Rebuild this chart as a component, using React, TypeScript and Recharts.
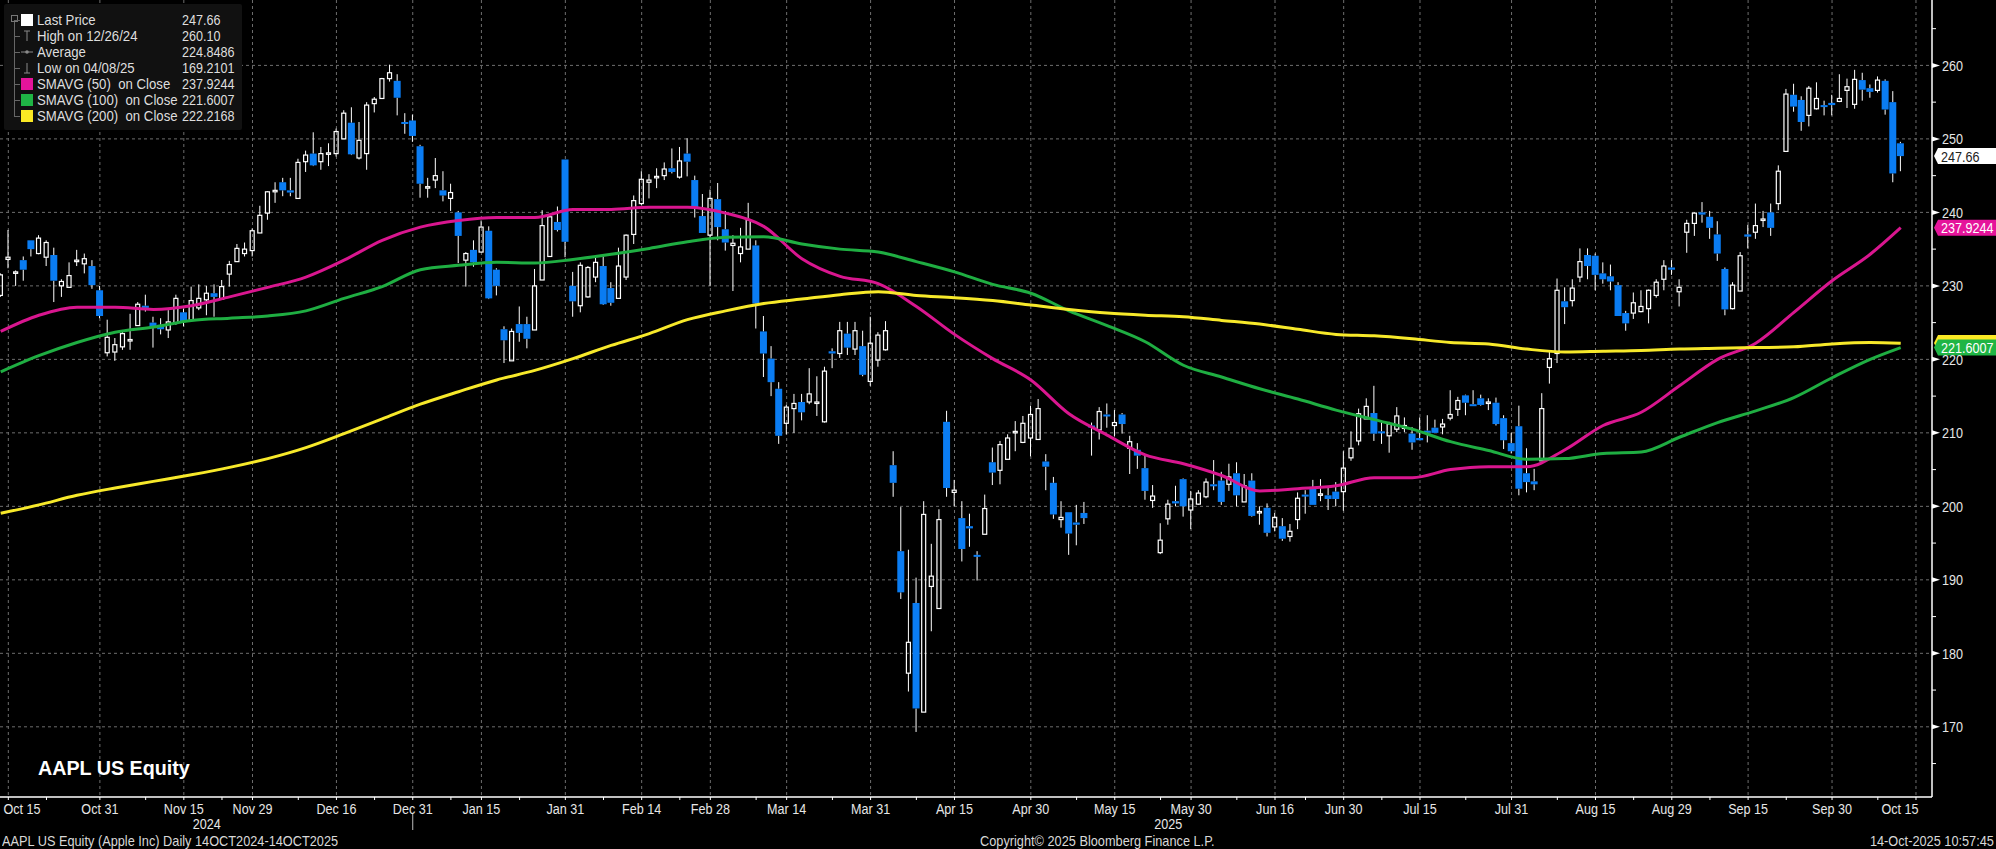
import { Bar, CartesianGrid, ComposedChart, Line, ReferenceDot, XAxis, YAxis } from "recharts";

const W = 1996;
const H = 849;
const FONT = '"Liberation Sans", sans-serif';
const SQUEEZE = 0.84;

// daily bars, 14 Oct 2024 to 14 Oct 2025, ten per row
const opens = [
  228.7, 233.6, 231.7, 233.5, 236.2, 234.4, 233.9, 234.2, 230, 229.8,
  233.3, 233, 232.7, 229.4, 220.9, 221, 221.7, 222.5, 224.6, 227.3,
  225, 224.7, 224, 225, 226.4, 225.3, 227, 228.1, 229, 228.2,
  231.6, 233.3, 234.4, 234.8, 237.2, 239.9, 242.8, 244.1, 243, 241.9,
  246.9, 248, 246.9, 247.9, 248, 250, 252.2, 247.4, 248, 254.8,
  255.5, 258.2, 257.9, 252.3, 252.5, 249, 243.3, 244.4, 243, 241.9,
  240, 233.5, 234.9, 234.6, 237.5, 232.2, 224.1, 219.8, 224.8, 224.8,
  224, 230.8, 234, 238.7, 247.2, 230, 227.3, 228.5, 231.2, 232.7,
  229.7, 228.3, 231.2, 237, 241.2, 244.1, 244.7, 245, 246, 244.8,
  248, 244.4, 239.5, 236.9, 241.8, 237.7, 235.5, 234.4, 235, 235.5,
  223.8, 220.1, 216, 211.3, 213.3, 214.2, 214.2, 214, 211.5, 221.1,
  220.8, 223.5, 221.4, 221.8, 217, 219.9, 221.3, 205.6, 193.9, 177.3,
  186.85, 172, 189.1, 186.1, 211.5, 201.9, 198.4, 197.3, 193.4, 196.2,
  206, 204.9, 206.4, 210, 208.7, 209.3, 209.1, 206.1, 203.2, 198.2,
  199.2, 197.8, 199.1, 211, 210.4, 212.5, 211, 212.5, 207.9, 207.7,
  205.2, 200.8, 193.7, 198.3, 200.7, 203.7, 199.5, 200.3, 201.3, 203,
  203.5, 203, 204.5, 200.6, 203.5, 199.1, 199.8, 197.2, 197.3, 195.9,
  198.2, 201.6, 202.4, 201.5, 201.5, 202, 202, 206.6, 208.9, 211.9,
  212.7, 210.2, 209.6, 210.5, 210.6, 209.9, 209.3, 210.3, 210.7, 210.8,
  212, 213.2, 215.1, 213.9, 214.7, 214, 214.1, 212, 208.6, 210.9,
  204.5, 203.4, 206.2, 218.9, 220.8, 227.9, 228, 231.2, 234.2, 234.1,
  231.7, 231.3, 230.1, 226.3, 226.3, 226.5, 226.9, 228.7, 230.9, 232.5,
  229.2, 237.3, 238.5, 240, 239.4, 237, 232.3, 226.9, 229.3, 237,
  237.3, 238.9, 240, 241.2, 248.3, 256, 255.3, 253.2, 254.1, 254.6,
  254.9, 255.1, 256.6, 254.7, 258, 256.9, 256.6, 257.9, 255, 249.4,
];
const highs = [
  231.7, 237.6, 232.1, 234, 236.2, 236.9, 236.2, 235.2, 230.9, 233.2,
  234.9, 234.4, 233.5, 230, 225.4, 222.9, 224, 226.2, 227.8, 228.8,
  225.8, 225.6, 226.7, 228.8, 226.9, 229.9, 230.2, 230, 230.2, 230.8,
  233.4, 235.7, 235.9, 237.8, 240.9, 242.9, 244.1, 244.7, 244.7, 247.3,
  248.4, 250.9, 248.9, 249.4, 251.4, 253.9, 254.3, 252.3, 255, 255.7,
  258.3, 260.1, 258.8, 253.5, 253.3, 249.2, 244.7, 247.4, 245.6, 243.9,
  240.2, 234.6, 236.2, 238.9, 238.1, 232.4, 224.5, 224.2, 227.2, 225.8,
  232.3, 240.3, 239.7, 240.8, 247.2, 231.9, 233.2, 232.7, 234, 234,
  230.5, 235.2, 237, 242.3, 245.6, 245.2, 246, 246.8, 248.7, 248.9,
  250.1, 245, 242.5, 243.1, 244, 240.2, 236.9, 237.9, 241.3, 236.2,
  225.9, 221.8, 216.9, 213.8, 215.3, 215.3, 218.8, 217.7, 219, 221.5,
  225.1, 225.1, 225.1, 223.9, 225.8, 223.7, 225.2, 207.5, 199.9, 194.1,
  190.3, 200.7, 194.9, 199.6, 213, 203.6, 200.7, 199, 193.9, 201.6,
  208, 208.9, 209.8, 211.6, 212.3, 213.7, 214.6, 207.1, 204, 200.7,
  199.2, 200.2, 200.6, 211.4, 213.5, 214, 213.1, 212.7, 209.6, 208.6,
  206.9, 202.9, 197.7, 200.9, 202.8, 203.8, 202.1, 202.2, 203.8, 206.3,
  204.7, 205.8, 206, 204.4, 204.5, 200, 200.4, 199.1, 198.4, 197.6,
  201.9, 202.2, 203.6, 203.7, 202.5, 203.3, 207.5, 210.2, 213.3, 214.7,
  216.4, 211.5, 211.5, 213.5, 212.1, 210.8, 212.1, 212.4, 211.8, 211.9,
  215.8, 214.9, 215.2, 215.8, 215.2, 214.7, 214.8, 212.4, 210, 213.7,
  207.9, 205.1, 215.4, 221, 231, 229.8, 230.9, 235.1, 235.1, 234.4,
  233.2, 232.9, 230.5, 226.6, 229.1, 229.4, 229.5, 230.9, 233.5, 233.5,
  230.9, 239, 240, 241.4, 240.2, 238.8, 232.5, 230.5, 234.6, 238.3,
  241.2, 240.2, 241.2, 246.4, 256.8, 257.5, 255.8, 257.2, 257.7, 255.2,
  256, 258.8, 258.2, 259.4, 259, 257.4, 258.5, 258.1, 256.5, 249.6,
];
const lows = [
  228.5, 232.4, 230, 230.7, 234, 234.3, 232.7, 227.8, 228.5, 229.8,
  232.7, 231.7, 229.6, 225.6, 220.4, 219.8, 221.3, 221.3, 224.6, 226.5,
  221.6, 223.4, 222.9, 224.7, 224.5, 225.3, 226.7, 226, 225.8, 228.2,
  229.9, 233.3, 234, 234, 237.2, 239, 241.3, 242.2, 242.2, 241.9,
  245.5, 246.3, 245.8, 246.3, 247.6, 250, 247.8, 247.2, 245.8, 253.6,
  255.5, 257.8, 253.2, 250.7, 249.6, 242, 242, 243.3, 241.5, 240.2,
  233.1, 229.9, 232.6, 234.6, 228.2, 228.7, 219.5, 219.8, 222.4, 221.5,
  224, 230.8, 234, 237.4, 233.9, 225.8, 226.4, 228.4, 230.5, 227.4,
  227.3, 228.3, 230.8, 235.7, 241, 241.9, 243.3, 244.4, 245.3, 244.6,
  244.9, 239.3, 237.2, 230, 236.2, 234.8, 229.3, 233.2, 235, 224.2,
  217.6, 215, 208.5, 209.8, 210, 211.7, 213.9, 212.3, 211.4, 218.8,
  220.2, 220.6, 220.6, 217.7, 216.4, 219, 221.2, 201.3, 187.4, 174.8,
  169.3, 172, 183, 186.1, 201.3, 200, 192.5, 194.5, 189.9, 196.2,
  202.9, 203, 206.4, 207.5, 208.6, 206.8, 209.1, 202.2, 198.3, 197.1,
  193.4, 194.7, 197.6, 206.9, 209.1, 210.7, 209.5, 209.9, 204.4, 205.1,
  200.9, 199.8, 193.5, 197.5, 200, 198.6, 196.9, 200.2, 201.1, 202.2,
  200.2, 202.1, 200, 200.6, 198.6, 197.5, 195.9, 196.6, 195.3, 195.2,
  196.9, 199, 200.2, 200.7, 199.5, 200, 199.4, 206.2, 208.3, 211.9,
  208.9, 208.5, 207.3, 210.1, 210.1, 207.7, 209, 208.7, 210, 209.8,
  211.7, 212.3, 212.4, 213.7, 213.7, 213.1, 211, 207.8, 207.2, 201.5,
  201.9, 202.2, 206.2, 216.7, 219.5, 224.8, 227.2, 230.5, 230.9, 229.4,
  230.3, 229.4, 225.9, 223.9, 225.5, 226.4, 224.9, 228.4, 229.4, 231.5,
  227.2, 234.5, 236.8, 238.6, 236.4, 233.4, 226, 226.8, 229.3, 235.1,
  236.4, 238, 236.8, 240.3, 248.3, 253.7, 251.1, 251.7, 254, 253.2,
  253.2, 255, 254.2, 254.1, 255.2, 255.6, 256.3, 253.3, 244.1, 245.6,
];
const closes = [
  231.5, 233.9, 231.9, 232.2, 235, 236.5, 235.9, 230.7, 230.6, 231.4,
  233.5, 233.7, 230.1, 225.9, 223, 222, 223.5, 222.7, 227.5, 227,
  224.4, 224.1, 225.1, 228.3, 225.1, 228, 228.3, 229, 228.5, 229.9,
  232.9, 235.1, 235, 237.5, 239.6, 242.8, 243, 243, 242.7, 246.8,
  247.8, 246.4, 248, 248.1, 251, 253.5, 247.9, 249.8, 254.6, 255.4,
  258.2, 259, 255.6, 252.1, 250.4, 243.9, 243.5, 245, 242.3, 242.7,
  236.8, 234.4, 233.2, 238, 228.3, 230, 222.6, 223.8, 223.6, 222.8,
  230, 238.2, 239.4, 237.6, 236, 227.9, 232.8, 232.5, 233.2, 227.5,
  227.7, 232.7, 236.9, 241.6, 244.5, 244.4, 244.9, 245.9, 245.5, 247,
  246.9, 240.6, 237.2, 241.9, 238, 235.9, 235.8, 235.3, 239, 227.6,
  220.8, 216.9, 209.6, 213.5, 214, 212.8, 215.3, 214.2, 218.4, 220.8,
  223.9, 221.6, 223.9, 217.9, 222.2, 223.3, 223.9, 203.2, 188.3, 181.5,
  172.5, 198.9, 190.5, 198.2, 202.5, 202.2, 194.2, 197, 193.2, 199.7,
  204.6, 208.4, 209.3, 210.2, 211.3, 212.5, 213.3, 205.4, 198.9, 198.5,
  196.3, 197.5, 198.4, 210.8, 212.9, 212.3, 211.4, 211.2, 208.8, 206.9,
  202.1, 201.4, 195.4, 200.3, 200.4, 200, 201, 201.8, 203.3, 202.8,
  200.6, 204, 201.5, 202.8, 198.7, 199.3, 196.4, 198.5, 195.6, 196.6,
  201.1, 201.4, 200.2, 201.7, 201, 201, 205.2, 207.9, 212.6, 213.6,
  209.9, 210, 211.2, 212.3, 211, 208.7, 209, 210.1, 210, 211.2,
  212.5, 214.4, 214.1, 213.7, 213.8, 214.2, 211.2, 209, 207.5, 202.4,
  203.3, 203, 213.3, 220.1, 229.4, 227.1, 229.7, 233.3, 232.7, 231.5,
  230.9, 230.6, 225.9, 224.9, 227.7, 227.2, 229.4, 230.5, 232.7, 232.2,
  229.8, 238.5, 239.9, 239.7, 237.9, 234.4, 226.8, 230.1, 234.1, 236.7,
  238.2, 239.1, 237.9, 245.6, 256.1, 254.4, 252.3, 256.9, 255.5, 254.4,
  254.6, 255.5, 257.1, 258.1, 256.7, 256.4, 258, 254, 245.3, 247.66,
];

// moving averages read at every fifth bar
const smaBars = [
  0, 5, 10, 15, 20, 25, 30, 35, 40, 45, 50, 55, 60, 65, 70, 75, 80, 85, 90, 95, 100, 105, 110, 115, 120,
  125, 130, 135, 140, 145, 150, 155, 160, 165, 170, 175, 180, 185, 190, 195, 200, 205, 210, 215, 220, 225,
  230, 235, 240, 245, 249,
];
const sma50 = [
  223.8, 226, 227.1, 227.1, 226.8, 227.3, 228.5, 229.8, 231.2, 233.5, 236.2, 238, 238.9, 239.3, 239.3, 240.4, 240.4,
  240.7, 240.7, 239.9, 238.1, 233.7, 231.3, 230.3, 227.2, 223.4, 220.1, 217.2, 212.6, 209.7, 207, 205.8, 204.2, 202.1,
  202.4, 202.8, 203.9, 203.9, 205, 205.4, 205.4, 207.7, 211, 212.8, 216.4, 220, 222.2, 226.4, 230.7, 234.3, 237.92,
];
const sma100 = [
  218.3, 220.5, 222.3, 223.7, 224.4, 225.3, 225.6, 225.9, 226.6, 228.3, 229.9, 232.2, 232.8, 233.2, 233.1, 233.6, 234.3,
  235.1, 236, 236.6, 236.7, 235.7, 235, 234.6, 233.3, 231.9, 230.2, 229, 226.6, 224.6, 222.4, 219.2, 217.6, 216,
  214.6, 213.1, 211.8, 210.5, 208.8, 207.6, 206.4, 206.5, 207.2, 207.4, 209.4, 211.4, 213, 214.8, 217.5, 220, 221.6,
];
const sma200 = [
  199.05, 200.2, 201.5, 202.5, 203.4, 204.3, 205.3, 206.5, 208, 209.9, 211.9, 213.9, 215.6, 217.2, 218.5, 220.1, 221.9,
  223.5, 225.4, 226.6, 227.6, 228.2, 228.8, 229.2, 228.7, 228.4, 228, 227.4, 226.8, 226.3, 226, 225.8, 225.3, 224.8,
  224.1, 223.4, 223.2, 222.8, 222.3, 222.1, 221.4, 221, 221.1, 221.2, 221.4, 221.5, 221.6, 221.7, 222.1, 222.3, 222.2,
];

// date axis, positions are bar numbers
const dateBars = [1, 13, 24, 33, 44, 54, 63, 74, 84, 93, 103, 114, 125, 135, 146, 156, 167, 176, 186, 198, 209, 219, 229, 240, 251];
const dateLabels = [
  "Oct 15", "Oct 31", "Nov 15", "Nov 29", "Dec 16", "Dec 31", "Jan 15", "Jan 31", "Feb 14", "Feb 28", "Mar 14", "Mar 31", "Apr 15",
  "Apr 30", "May 15", "May 30", "Jun 16", "Jun 30", "Jul 15", "Jul 31", "Aug 15", "Aug 29", "Sep 15", "Sep 30", "Oct 15",
];
const minorBars = [6, 19, 29, 39, 49, 59, 68, 79, 89, 99, 109, 120, 141, 152, 162, 171, 181, 192, 204, 214, 224, 234, 246];
const yearBars = [27, 153];
const yearLabels = ["2024", "2025"];
const yearBreakBar = 54;

const priceMajor = [170, 180, 190, 200, 210, 220, 230, 240, 250, 260];
const priceTicks = [165, 170, 175, 180, 185, 190, 195, 200, 205, 210, 215, 220, 225, 230, 235, 240, 245, 250, 255, 260, 265];

const legendRows = [
  { name: "Last Price", value: "247.66", swatch: "#ffffff" },
  { name: "High on 12/26/24", value: "260.10", icon: "high" },
  { name: "Average", value: "224.8486", icon: "avg" },
  { name: "Low on 04/08/25", value: "169.2101", icon: "low" },
  { name: "SMAVG (50)  on Close", value: "237.9244", swatch: "#e5149b" },
  { name: "SMAVG (100)  on Close", value: "221.6007", swatch: "#1fb545" },
  { name: "SMAVG (200)  on Close", value: "222.2168", swatch: "#fbe924" },
];

// the yellow tag sits behind the green one, only its top edge shows
const tags = [
  { value: 247.66, text: "247.66", fill: "#ffffff", color: "#222222" },
  { value: 237.9244, text: "237.9244", fill: "#e5149b", color: "#ffffff" },
  { value: 222.2168, text: "", fill: "#fbe924", color: "#222222" },
  { value: 221.6007, text: "221.6007", fill: "#1fb545", color: "#ffffff" },
];

const bars = opens.map((open, i) => {
  const s = smaBars.indexOf(i);
  return {
    i,
    open,
    close: closes[i],
    range: [lows[i], highs[i]],
    sma50: s >= 0 ? sma50[s] : null,
    sma100: s >= 0 ? sma100[s] : null,
    sma200: s >= 0 ? sma200[s] : null,
  };
});

const allDateTicks = [...dateBars, ...minorBars, ...yearBars].sort((a, b) => a - b);

function Candle(props: any) {
  const { x, y, width, height, payload } = props;
  const [low, high] = payload.range;
  const perUnit = height / (high - low);
  const toY = (v: number) => y + (high - v) * perUnit;
  const mid = x + width / 2;
  const up = payload.close >= payload.open;
  const top = toY(Math.max(payload.open, payload.close));
  const bottom = toY(Math.min(payload.open, payload.close));
  const wicks = (
    <>
      <line x1={mid} x2={mid} y1={y} y2={top} stroke="#fff" strokeWidth={1} />
      <line x1={mid} x2={mid} y1={bottom} y2={y + height} stroke="#fff" strokeWidth={1} />
    </>
  );
  if (up) {
    return (
      <g>
        {wicks}
        <rect x={mid - 2} y={top} width={4} height={Math.max(bottom - top, 1)} fill="none" stroke="#fff" strokeWidth={1.2} />
      </g>
    );
  }
  return (
    <g>
      {wicks}
      <rect x={mid - 3.5} y={top} width={7} height={Math.max(bottom - top, 2)} fill="#0a7cf2" />
    </g>
  );
}

// Bloomberg's axis font is tall and narrow, so the text is squeezed sideways
function NarrowText({ x, y, anchor, fill, children }: any) {
  return (
    <text
      transform={`translate(${x} ${y}) scale(${SQUEEZE} 1)`}
      textAnchor={anchor}
      fontFamily={FONT}
      fontSize={15}
      fill={fill}
    >
      {children}
    </text>
  );
}

function DateTick(props: any) {
  const { x, y, payload } = props;
  const v = payload.value;
  const d = dateBars.indexOf(v);
  const yr = yearBars.indexOf(v);
  let labelX = x;
  if (d === 0) labelX = 22;
  if (d === dateBars.length - 1) labelX = 1900;
  return (
    <g>
      {yr < 0 && <line x1={x} x2={x} y1={y} y2={y + 3} stroke="#fff" strokeWidth={1} />}
      {d >= 0 && (
        <NarrowText x={labelX} y={y + 17} anchor="middle" fill="#e6e6e6">
          {dateLabels[d]}
        </NarrowText>
      )}
      {yr >= 0 && (
        <NarrowText x={x} y={y + 32} anchor="middle" fill="#e6e6e6">
          {yearLabels[yr]}
        </NarrowText>
      )}
      {v === yearBreakBar && <line x1={x} x2={x} y1={y + 17} y2={y + 33} stroke="#bbb" strokeWidth={1} />}
    </g>
  );
}

function PriceTick(props: any) {
  const { x, y, payload } = props;
  const major = priceMajor.includes(payload.value);
  if (!major) return <line x1={x} x2={x + 4} y1={y} y2={y} stroke="#fff" strokeWidth={1} />;
  return (
    <g>
      <polygon points={`${x},${y - 2.5} ${x + 8},${y} ${x},${y + 2.5}`} fill="#fff" />
      <NarrowText x={x + 10} y={y + 5.5} fill="#e6e6e6">
        {payload.value}
      </NarrowText>
    </g>
  );
}

function PriceTag(props: any) {
  const { cy, tag } = props;
  const left = 1934;
  const points = `${left},${cy} ${left + 4},${cy - 8} ${W},${cy - 8} ${W},${cy + 8} ${left + 4},${cy + 8}`;
  return (
    <g>
      <polygon points={points} fill={tag.fill} />
      {tag.text && (
        <NarrowText x={left + 7} y={cy + 5.5} fill={tag.color}>
          {tag.text}
        </NarrowText>
      )}
    </g>
  );
}

function LegendIcon({ kind }: { kind: string }) {
  const c = "#8a8a8a";
  return (
    <svg width={12} height={14} style={{ position: "absolute", left: 17, top: 1 }}>
      {kind === "high" && <path d="M3 2 H9 M6 2 V12" stroke={c} fill="none" />}
      {kind === "low" && <path d="M3 12 H9 M6 2 V12" stroke={c} fill="none" />}
      {kind === "avg" && (
        <>
          <path d="M0 7 H12" stroke={c} />
          <circle cx={6} cy={7} r={1.8} fill={c} />
        </>
      )}
    </svg>
  );
}

const squeezed = (left: number, amount: number): React.CSSProperties => ({
  position: "absolute",
  left,
  top: -1,
  whiteSpace: "pre",
  transform: `scaleX(${amount})`,
  transformOrigin: "left center",
});

function LegendBox() {
  return (
    <div
      style={{
        position: "absolute",
        left: 4,
        top: 4,
        width: 238,
        height: 126,
        background: "#111111",
        borderRadius: 2,
        fontFamily: FONT,
        fontSize: 15,
        color: "#dedede",
      }}
    >
      <div style={{ position: "absolute", left: 7, top: 11, width: 5, height: 5, border: "1px solid #777" }} />
      <div style={{ position: "absolute", left: 10, top: 18, width: 1, height: 95, background: "#666" }} />
      {legendRows.map((row, i) => (
        <div key={row.name} style={{ position: "absolute", left: 0, top: 8 + i * 16, height: 16, width: 238 }}>
          <div style={{ position: "absolute", left: 10, top: 8, width: 6, height: 1, background: "#666" }} />
          {row.swatch ? (
            <div style={{ position: "absolute", left: 17, top: 2, width: 12, height: 12, background: row.swatch }} />
          ) : (
            <LegendIcon kind={row.icon as string} />
          )}
          <span style={squeezed(33, 0.88)}>{row.name}</span>
          <span style={squeezed(178, SQUEEZE)}>{row.value}</span>
        </div>
      ))}
    </div>
  );
}

const footerStyle: React.CSSProperties = {
  position: "absolute",
  top: 832,
  fontFamily: FONT,
  fontSize: 15,
  color: "#d8d8d8",
  whiteSpace: "nowrap",
  transform: `scaleX(${SQUEEZE + 0.01})`,
};

export default function App() {
  return (
    <div style={{ position: "relative", width: W, height: H, background: "#000", overflow: "hidden" }}>
      <style>{"body{margin:0;background:#000}"}</style>
      <ComposedChart width={W} height={H} data={bars} margin={{ top: 0, right: 0, bottom: 0, left: 0 }}>
        <CartesianGrid
          stroke="#6e6e6e"
          strokeDasharray="3 3"
          horizontalValues={priceMajor}
          verticalValues={dateBars}
        />
        <XAxis
          dataKey="i"
          type="number"
          scale="linear"
          domain={[-0.09, 253.1]}
          allowDataOverflow
          ticks={allDateTicks}
          interval={0}
          height={52}
          tick={<DateTick />}
          tickLine={false}
          tickSize={0}
          tickMargin={0}
          axisLine={{ stroke: "#fff", strokeWidth: 1.5 }}
        />
        <YAxis
          orientation="right"
          type="number"
          domain={[160.45, 268.9]}
          allowDataOverflow
          ticks={priceTicks}
          interval={0}
          width={64}
          tick={<PriceTick />}
          tickLine={false}
          tickSize={0}
          tickMargin={0}
          axisLine={{ stroke: "#fff", strokeWidth: 1.5 }}
        />
        <Bar dataKey="range" barSize={7} shape={<Candle />} isAnimationActive={false} />
        <Line type="monotone" dataKey="sma50" stroke="#d9168f" strokeWidth={3} dot={false} activeDot={false} connectNulls isAnimationActive={false} />
        <Line type="monotone" dataKey="sma100" stroke="#1fae42" strokeWidth={3} dot={false} activeDot={false} connectNulls isAnimationActive={false} />
        <Line type="monotone" dataKey="sma200" stroke="#f7e92a" strokeWidth={3} dot={false} activeDot={false} connectNulls isAnimationActive={false} />
        {tags.map((tag) => (
          <ReferenceDot
            key={tag.value}
            x={249}
            y={tag.value}
            ifOverflow="visible"
            shape={(p: any) => <PriceTag {...p} tag={tag} />}
          />
        ))}
      </ComposedChart>
      <LegendBox />
      <div
        style={{
          position: "absolute",
          left: 38,
          top: 757,
          fontFamily: FONT,
          fontWeight: 700,
          fontSize: 19.7,
          color: "#fff",
        }}
      >
        AAPL US Equity
      </div>
      <div style={{ ...footerStyle, left: 2, transformOrigin: "left center" }}>
        AAPL US Equity (Apple Inc) Daily 14OCT2024-14OCT2025
      </div>
      <div style={{ ...footerStyle, left: 980, transformOrigin: "left center" }}>Copyright© 2025 Bloomberg Finance L.P.</div>
      <div style={{ ...footerStyle, right: 2, transformOrigin: "right center" }}>14-Oct-2025 10:57:45</div>
    </div>
  );
}
